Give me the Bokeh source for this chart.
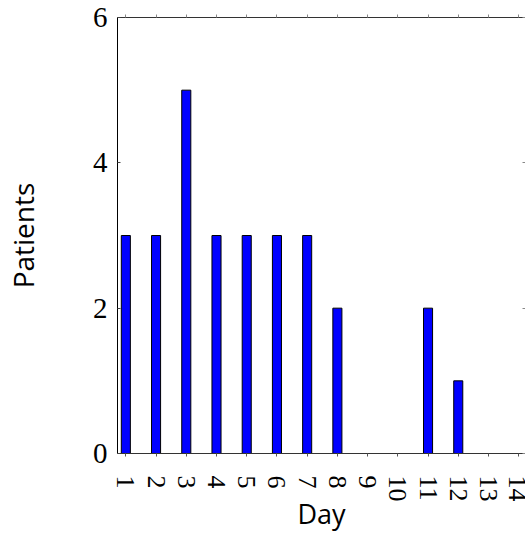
from bokeh.plotting import figure
from bokeh.models import Range1d, LinearAxis, FixedTicker, ColumnDataSource
from bokeh.embed import file_html
from bokeh.resources import INLINE

days = [1, 2, 3, 4, 5, 6, 7, 8, 9, 10, 11, 12, 13, 14]
patients = [3, 3, 5, 3, 3, 3, 3, 2, 0, 0, 2, 1, 0, 0]
y_ticks = [0, 2, 4, 6]
x_label = "Day"
y_label = "Patients"

src = ColumnDataSource(dict(day=days, patients=patients))

p = figure(output_backend="svg", toolbar_location=None,
           frame_width=408, frame_height=436,
           min_border_left=117, min_border_right=0, min_border_top=17, min_border_bottom=70,
           x_range=Range1d(0.724, 14.225), y_range=Range1d(0, 6),
           x_axis_label=x_label, y_axis_label=y_label)
p.outline_line_color = None
p.xgrid.visible = False
p.ygrid.visible = False
p.background_fill_color = "white"
p.border_fill_color = "white"

p.vbar(x="day", top="patients", bottom=0, width=0.3, source=src,
       fill_color="#0000FF", line_color="black", line_width=1)

serif = "Liberation Serif"
sans = "Open Sans"

xa = p.xaxis[0]
xa.ticker = FixedTicker(ticks=days)
xa.major_label_orientation = "vertical"
xa.major_label_text_font = serif
xa.major_label_text_font_size = "26px"
xa.major_label_text_color = "black"
xa.major_tick_out = 3
xa.major_tick_in = 0
xa.minor_tick_line_color = None
xa.major_label_standoff = 19
xa.axis_line_color = "#333333"
xa.major_tick_line_color = "#555555"
xa.axis_label_text_font = sans
xa.axis_label_text_font_style = "normal"
xa.axis_label_text_font_size = "27px"
xa.axis_label_text_color = "black"
xa.axis_label_standoff = -10

ya = p.yaxis[0]
ya.ticker = FixedTicker(ticks=y_ticks)
ya.major_label_text_font = serif
ya.major_label_text_font_size = "29px"
ya.major_label_text_color = "black"
ya.major_tick_out = 0
ya.major_tick_in = 3
ya.minor_tick_line_color = None
ya.major_label_standoff = 10
ya.axis_line_color = "black"
ya.major_tick_line_color = "#444444"
ya.axis_label_text_font = sans
ya.axis_label_text_font_style = "normal"
ya.axis_label_text_font_size = "28px"
ya.axis_label_text_color = "black"
ya.axis_label_standoff = 48

top = LinearAxis(ticker=FixedTicker(ticks=days),
                 major_label_overrides={d: "" for d in days},
                 major_label_standoff=0, major_tick_out=3, major_tick_in=0,
                 minor_tick_line_color=None, axis_line_color="#333333",
                 major_tick_line_color="#888888")
p.add_layout(top, "above")

right = LinearAxis(ticker=FixedTicker(ticks=y_ticks),
                   major_label_overrides={t: "" for t in y_ticks},
                   major_label_standoff=0, major_tick_out=0, major_tick_in=3,
                   minor_tick_line_color=None, axis_line_color="#333333",
                   major_tick_line_color="#888888")
p.add_layout(right, "right")

open("out.html", "w").write(file_html(p, INLINE))
